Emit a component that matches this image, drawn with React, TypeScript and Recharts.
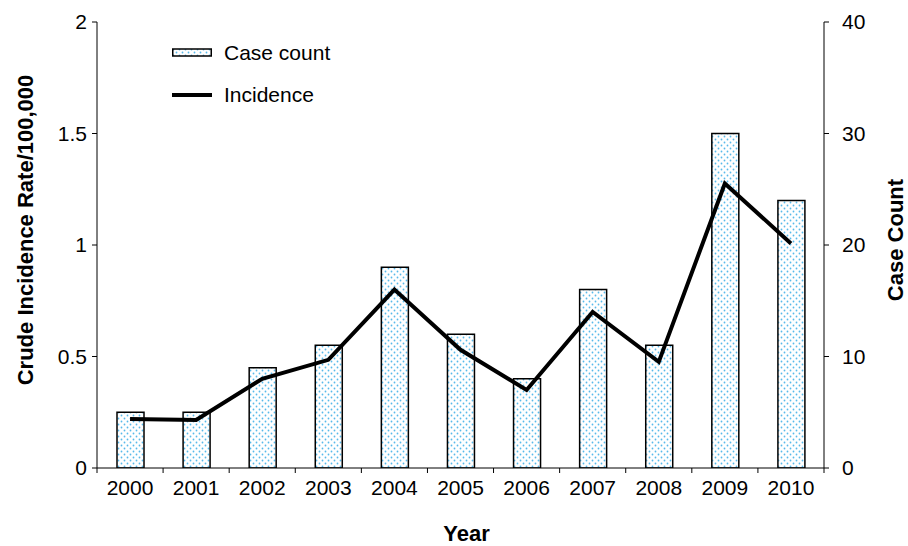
import React from 'react';
import { ComposedChart, Bar, Line, XAxis, YAxis, Legend, Label } from 'recharts';

const years = ['2000', '2001', '2002', '2003', '2004', '2005', '2006', '2007', '2008', '2009', '2010'];
const caseCounts = [5, 5, 9, 11, 18, 12, 8, 16, 11, 30, 24];
const incidence = [0.22, 0.215, 0.4, 0.485, 0.8, 0.53, 0.35, 0.7, 0.476, 1.276, 1.007];
const leftTicks = [0, 0.5, 1, 1.5, 2];
const rightTicks = [0, 10, 20, 30, 40];

const data = years.map((year, i) => ({ year, cases: caseCounts[i], incidence: incidence[i] }));

const FONT = '"Liberation Sans", Arial, sans-serif';
const FS = 21;
const TITLE_FS = 22;
const W = 908;
const H = 546;
const LEFT_W = 97;
const RIGHT_W = 84;
const TOP = 22;
const XH = 78;
const HALF_BAND = (W - LEFT_W - RIGHT_W) / years.length / 2;

const XTick = (props: any) => {
  const { x, y, payload, index } = props;
  const last = index === years.length - 1;
  return (
    <g>
      <line x1={x - HALF_BAND} x2={x - HALF_BAND} y1={y - 12} y2={y - 7} stroke="#000" strokeWidth={1} />
      {last && <line x1={x + HALF_BAND} x2={x + HALF_BAND} y1={y - 12} y2={y - 7} stroke="#000" strokeWidth={1} />}
      <text x={x} y={y} dy="0.71em" textAnchor="middle" fill="#000" fontFamily={FONT} fontSize={FS}>
        {payload.value}
      </text>
    </g>
  );
};

const LegendContent = () => (
  <div style={{ fontFamily: FONT, fontSize: FS, color: '#000', lineHeight: '24px' }}>
    <div style={{ display: 'flex', alignItems: 'center', height: 24 }}>
      <svg width={40} height={10} style={{ display: 'block' }}>
        <rect x={0.75} y={1} width={38.5} height={7} fill="url(#dotsPattern)" stroke="#000" strokeWidth={1.5} />
      </svg>
      <span style={{ marginLeft: 12 }}>Case count</span>
    </div>
    <div style={{ display: 'flex', alignItems: 'center', height: 24, marginTop: 18 }}>
      <svg width={40} height={10} style={{ display: 'block' }}>
        <line x1={0} x2={40} y1={5} y2={5} stroke="#000" strokeWidth={4} />
      </svg>
      <span style={{ marginLeft: 12 }}>Incidence</span>
    </div>
  </div>
);

export default function App() {
  const tickStyle = { fill: '#000', fontFamily: FONT, fontSize: FS };
  const labelStyle = { textAnchor: 'middle' as const, fontWeight: 'bold', fontSize: TITLE_FS, fontFamily: FONT, fill: '#000' };
  return (
    <div style={{ position: 'absolute', left: 0, top: 0, background: '#fff' }}>
      <ComposedChart width={W} height={H} data={data} margin={{ top: TOP, right: 0, bottom: 0, left: 0 }}>
        <defs>
          <pattern id="dotsPattern" x={0} y={0} width={6} height={6} patternUnits="userSpaceOnUse">
            <rect x={0} y={0} width={6} height={6} fill="#fff" />
            <circle cx={1.5} cy={1.5} r={0.9} fill="#58b9ea" />
            <circle cx={4.5} cy={4.5} r={0.9} fill="#58b9ea" />
          </pattern>
        </defs>
        <XAxis
          dataKey="year"
          height={XH}
          tick={<XTick />}
          tickLine={false}
          tickSize={5}
          tickMargin={7}
          axisLine={{ stroke: '#000', strokeWidth: 1 }}
          interval={0}
        >
          <Label value="Year" position="insideBottom" offset={5} dx={6} style={labelStyle} />
        </XAxis>
        <YAxis
          yAxisId="left"
          orientation="left"
          width={LEFT_W}
          domain={[0, 2]}
          ticks={leftTicks}
          tick={tickStyle}
          tickSize={5}
          tickMargin={5}
          axisLine={{ stroke: '#000', strokeWidth: 1 }}
          tickLine={{ stroke: '#000', strokeWidth: 1 }}
          allowDataOverflow
        >
          <Label value="Crude Incidence Rate/100,000" angle={-90} position="insideLeft" offset={25} dy={-15} style={labelStyle} />
        </YAxis>
        <YAxis
          yAxisId="right"
          orientation="right"
          width={RIGHT_W}
          domain={[0, 40]}
          ticks={rightTicks}
          tick={{ ...tickStyle, textAnchor: 'start' }}
          tickSize={5}
          tickMargin={13}
          axisLine={{ stroke: '#000', strokeWidth: 1 }}
          tickLine={{ stroke: '#000', strokeWidth: 1 }}
          allowDataOverflow
        >
          <Label value="Case Count" angle={-90} position="insideRight" offset={12.5} dy={-5} style={labelStyle} />
        </YAxis>
        <Legend
          layout="vertical"
          align="center"
          verticalAlign="middle"
          content={<LegendContent />}
          wrapperStyle={{ position: 'absolute', left: 172, top: 41, width: 'auto', height: 'auto' }}
        />
        <Bar
          yAxisId="right"
          dataKey="cases"
          name="Case count"
          barSize={27}
          fill="url(#dotsPattern)"
          stroke="#000"
          strokeWidth={1.5}
          isAnimationActive={false}
        />
        <Line
          yAxisId="left"
          dataKey="incidence"
          name="Incidence"
          type="linear"
          stroke="#000"
          strokeWidth={4}
          dot={false}
          activeDot={false}
          isAnimationActive={false}
        />
      </ComposedChart>
    </div>
  );
}
